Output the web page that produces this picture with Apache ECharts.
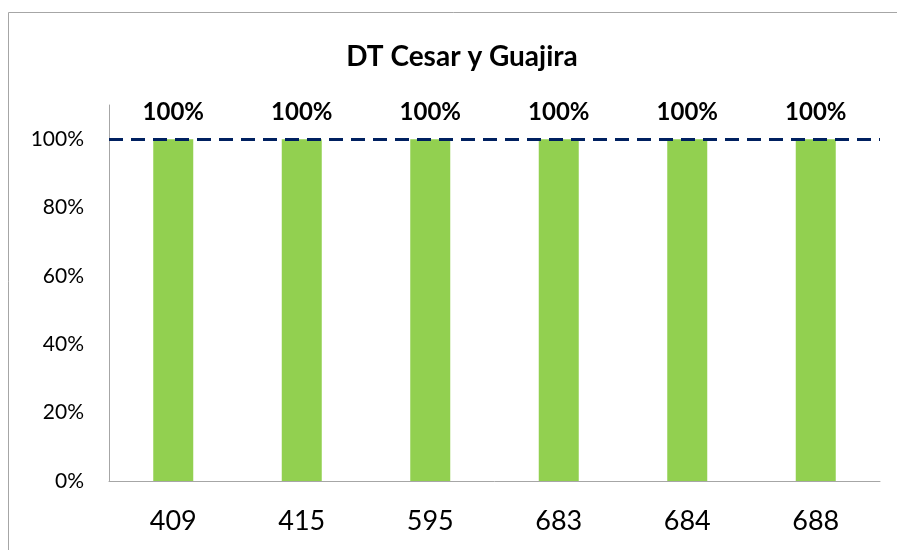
<!DOCTYPE html>
<html>
<head>
<meta charset="utf-8">
<script src="https://cdn.jsdelivr.net/npm/echarts@6/dist/echarts.min.js"></script>
<style>
	html, body { margin: 0; padding: 0; background: #fff; }
	#chart { width: 897px; height: 550px; }
</style>
</head>
<body>
<div id="chart"></div>
<script>
	var categories = ["409", "415", "595", "683", "684", "688"];
	var values = [1, 1, 1, 1, 1, 1];
	var target = 1;

	var myChart = echarts.init(document.getElementById("chart"));
	var option = {
		animation: false,
		title: {
			text: "DT Cesar y Guajira",
			left: 457,
			top: 38,
			textAlign: "center",
			textStyle: {
				fontFamily: "Lato",
				fontSize: 28,
				fontWeight: "bold",
				color: "#000"
			}
		},
		graphic: [{
			type: "rect",
			shape: { x: 8.5, y: 12.5, width: 900, height: 560 },
			style: { fill: "none", stroke: "#a6a6a6", lineWidth: 1 }
		}],
		grid: {
			left: 109,
			right: 17,
			top: 105,
			bottom: 69
		},
		xAxis: {
			type: "category",
			data: categories,
			axisTick: { show: false },
			axisLine: { lineStyle: { color: "#a6a6a6", width: 1 } },
			axisLabel: {
				margin: 27,
				fontFamily: "Lato",
				fontSize: 27,
				color: "#000"
			}
		},
		yAxis: {
			type: "value",
			min: 0,
			max: 1.1,
			interval: 0.2,
			splitLine: { show: false },
			axisTick: { show: false },
			axisLine: { show: true, lineStyle: { color: "#a6a6a6", width: 1 } },
			axisLabel: {
				margin: 25,
				fontFamily: "Lato",
				fontSize: 21,
				color: "#000",
				formatter: function (v) {
					if (v > 1.0001) return "";
					return Math.round(v * 100) + "%";
				}
			}
		},
		series: [{
			type: "bar",
			data: values,
			barWidth: 40,
			itemStyle: { color: "#92d050" },
			label: {
				show: true,
				position: "top",
				distance: 15,
				fontFamily: "Lato",
				fontSize: 24,
				fontWeight: "bold",
				color: "#000",
				formatter: function (p) {
					return Math.round(p.value * 100) + "%";
				}
			},
			markLine: {
				symbol: "none",
				silent: true,
				label: { show: false },
				lineStyle: {
					color: "#002060",
					width: 3,
					type: [14, 8]
				},
				data: [{ yAxis: target }]
			}
		}]
	};
	myChart.setOption(option);
</script>
</body>
</html>
